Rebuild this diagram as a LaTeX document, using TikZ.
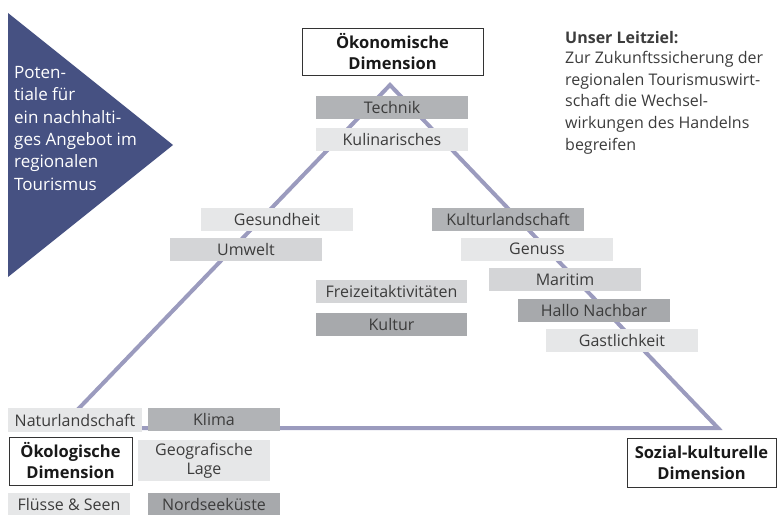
\documentclass[tikz,border=0pt]{standalone}
\usepackage{fontspec}
\setmainfont{Open Sans}
\definecolor{lightg}{HTML}{E6E7E8}
\definecolor{midg}{HTML}{D4D5D7}
\definecolor{darkg}{HTML}{B1B3B6}
\definecolor{darkerg}{HTML}{A7A9AC}
\definecolor{txt}{HTML}{3C3C3C}
\definecolor{navy}{HTML}{465182}
\definecolor{tri}{RGB}{155,155,190}
\tikzset{
  tag/.style={inner sep=0pt, minimum height=23pt, text=txt, font=\fontsize{16}{17}\selectfont},
  dim/.style={draw=black!80, line width=0.8pt, fill=white, inner sep=0pt, align=center,
     font=\fontsize{16.5}{21}\selectfont\bfseries, text=black!90}
}
\begin{document}
\begin{tikzpicture}[x=1pt,y=-1pt]
\useasboundingbox (0,0) rectangle (779,516);
% big triangle
\coordinate (apex) at (390,85);
\coordinate (bl) at (60,428);
\coordinate (br) at (718,428);
\draw[tri, line width=4pt, line join=miter] (apex) -- (br) -- (bl) -- cycle;
% left arrow triangle
\fill[navy] (8,13) -- (173,145) -- (8,277) -- cycle;
\node[anchor=north west, inner sep=0pt, align=left, text=white,
  font=\fontsize{17}{22.4}\selectfont] (pot) at (14,66)
  {Poten-\\tiale für\\ein nachhalti-\\ges Angebot im\\regionalen\\Tourismus};
% Leitziel
\node[anchor=north west, inner sep=0pt, align=left, text=txt,
  font=\fontsize{16}{21.7}\selectfont] (ziel) at (565,31)
  {\textbf{Unser Leitziel:}\\[-1.5pt]Zur Zukunftssicherung der\\regionalen Tourismuswirt-\\schaft die Wechsel-\\wirkungen des Handelns\\begreifen};
% dimension boxes
\node[dim, minimum width=181pt, minimum height=47pt] (oek) at (392.5,51.5) {Ökonomische\\Dimension};
\node[dim, minimum width=123pt, minimum height=48pt] (oeko) at (70.5,461) {Ökologische\\Dimension};
\node[dim, minimum width=149pt, minimum height=49pt] (soz) at (701.5,462.5) {Sozial-kulturelle\\Dimension};
% tags
\node[tag, fill=darkg, minimum width=152pt] (technik) at (392,107.5) {Technik};
\node[tag, fill=lightg, minimum width=152pt] (kulin) at (392,139.5) {Kulinarisches};
\node[tag, fill=lightg, minimum width=152pt] (gesund) at (277,219.5) {Gesundheit};
\node[tag, fill=midg, minimum width=152pt] (umwelt) at (246,249.5) {Umwelt};
\node[tag, fill=midg, minimum width=151pt] (freizeit) at (391.5,291.5) {Freizeitaktivitäten};
\node[tag, fill=darkerg, minimum width=151pt] (kultur) at (391.5,324) {Kultur};
\node[tag, fill=darkg, minimum width=152pt] (kland) at (508,219.5) {Kulturlandschaft};
\node[tag, fill=lightg, minimum width=152pt] (genuss) at (537,249) {Genuss};
\node[tag, fill=midg, minimum width=152pt] (maritim) at (565,279.5) {Maritim};
\node[tag, fill=darkerg, minimum width=152pt] (hallo) at (594,310.5) {Hallo Nachbar};
\node[tag, fill=lightg, minimum width=152pt] (gast) at (622,340.5) {Gastlichkeit};
\node[tag, fill=lightg, minimum width=134pt, minimum height=24pt] (natur) at (75,420) {Naturlandschaft};
\node[tag, fill=darkg, minimum width=132pt] (klima) at (214,419.5) {Klima};
\node[tag, fill=lightg, minimum width=132pt, minimum height=41pt, align=center,
  font=\fontsize{16}{19}\selectfont] (geo) at (204,460.5) {Geografische\\Lage};
\node[tag, fill=lightg, minimum width=122pt, minimum height=22pt] (fluss) at (69,504) {Flüsse \& Seen};
\node[tag, fill=darkerg, minimum width=132pt, minimum height=22pt] (nord) at (214,504) {Nordseeküste};
\end{tikzpicture}
\end{document}
